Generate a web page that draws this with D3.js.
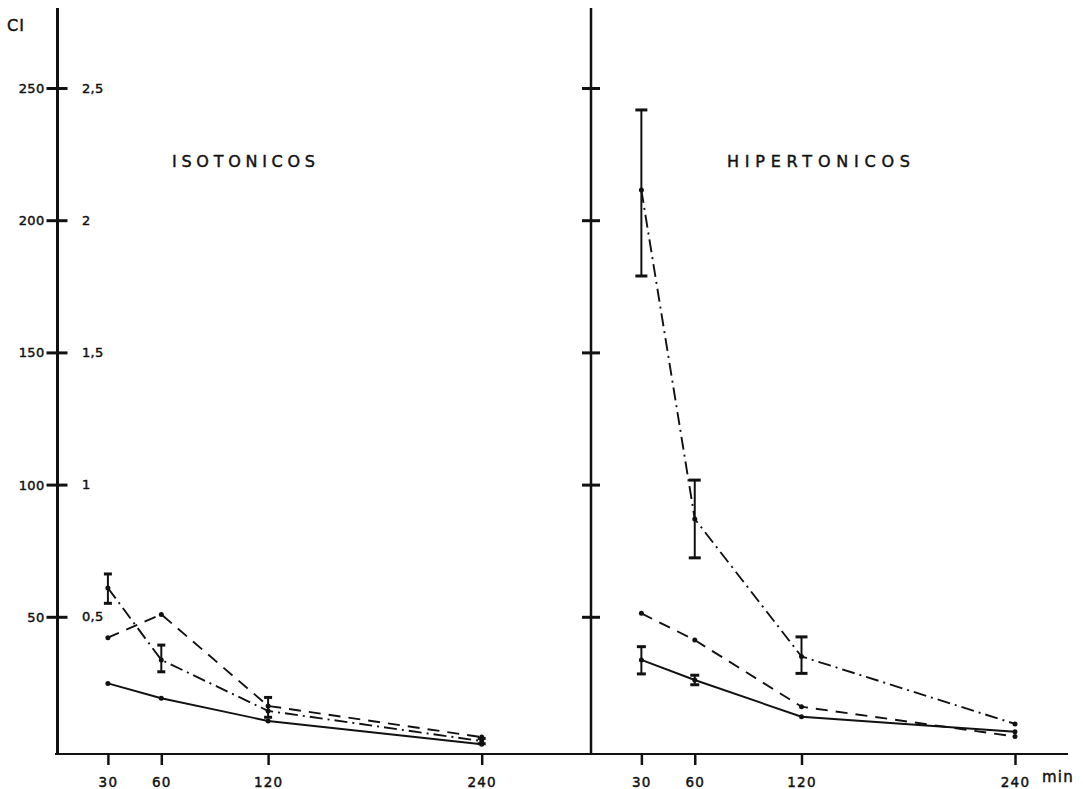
<!DOCTYPE html>
<html><head><meta charset="utf-8">
<script src="https://cdn.jsdelivr.net/npm/d3@7"></script>
<style>
html,body{margin:0;padding:0;background:#fff;}
svg{display:block;}
text{font-family:"DejaVu Sans","Liberation Sans",Arial,sans-serif;fill:#111;font-weight:normal;stroke:#111;stroke-width:0.45px;}
</style></head>
<body>
<svg id="chart" width="1083" height="789"></svg>
<script>
// ---- data ----
const times = [30, 60, 120, 240];
const yTicks = [50, 100, 150, 200, 250];
const yTickLabels2 = ["0,5", "1", "1,5", "2", "2,5"];
const panelTitles = ["ISOTONICOS", "HIPERTONICOS"];

const isoSolid   = [24.8, 19.2, 10.6, 1.8];
const isoDashed  = [42.1, 50.9, 16.3, 4.5];
const isoDashDot = [60.9, 33.7, 14.4, 3.0];
const isoDashDotLow  = [55.1, 29.2, 12.0, 2.0];
const isoDashDotHigh = [66.2, 39.3, 19.5, 4.0];

const hipSolid   = [33.7, 26.1, 12.2, 6.5];
const hipSolidLow  = [28.4, 24.3, null, null];
const hipSolidHigh = [38.7, 27.9, null, null];
const hipDashed  = [51.3, 41.2, 16.0, 4.7];
const hipDashDot = [211.4, 87.0, 35.0, 9.5];
const hipDashDotLow  = [178.9, 72.3, 28.6, null];
const hipDashDotHigh = [241.7, 101.7, 42.4, null];

// ---- scales ----
const svg = d3.select("#chart");
const y = d3.scaleLinear().domain([0, 250]).range([749, 88]);
const xL = d3.scaleLinear().domain([0, 240]).range([54.5, 481.7]);
const xR = d3.scaleLinear().domain([0, 240]).range([588, 1015]);
const baseY = 754;

// ---- axes lines ----
svg.append("line").attr("x1", 57.5).attr("x2", 57.5).attr("y1", 8).attr("y2", baseY)
  .attr("stroke", "#111").attr("stroke-width", 3);
svg.append("line").attr("x1", 591).attr("x2", 591).attr("y1", 8).attr("y2", baseY)
  .attr("stroke", "#111").attr("stroke-width", 2.5);
svg.append("line").attr("x1", 55).attr("x2", 1068).attr("y1", baseY).attr("y2", baseY)
  .attr("stroke", "#111").attr("stroke-width", 2);

// left y axis via d3
const gL = svg.append("g").attr("transform", "translate(57.5,0)")
  .call(d3.axisLeft(y).tickValues(yTicks).tickSize(11).tickPadding(2).tickFormat(d3.format("d")));
gL.select(".domain").remove();
gL.selectAll(".tick line").attr("stroke", "#111").attr("stroke-width", 3).attr("x2", 10).attr("x1", -11);
gL.selectAll(".tick text").style("font-size", "13px").style("font-family", "'DejaVu Sans',sans-serif")
  .style("letter-spacing", "0.3px").attr("dy", "0.35em").attr("fill", "#111");

// secondary labels
svg.append("g").selectAll("text").data(yTicks).join("text")
  .attr("x", 82).attr("y", d => y(d) + 4.5)
  .style("font-size", "13px").style("letter-spacing", "0.3px")
  .text((d, i) => yTickLabels2[i]);

// right axis ticks
const gR = svg.append("g").attr("transform", "translate(591,0)")
  .call(d3.axisLeft(y).tickValues(yTicks).tickSize(9).tickFormat(""));
gR.select(".domain").remove();
gR.selectAll(".tick line").attr("stroke", "#111").attr("stroke-width", 3).attr("x1", 9).attr("x2", -9);

// x axes
[xL, xR].forEach(xs => {
  const g = svg.append("g").attr("transform", `translate(0,${baseY})`)
    .call(d3.axisBottom(xs).tickValues(times).tickSize(11).tickPadding(12).tickFormat(d3.format("d")));
  g.select(".domain").remove();
  g.selectAll(".tick line").attr("stroke", "#111").attr("stroke-width", 2.5);
  g.selectAll(".tick text").style("font-size", "13.5px").style("font-family", "'DejaVu Sans',sans-serif")
    .style("letter-spacing", "1.2px").attr("fill", "#111");
});
svg.append("text").attr("x", 1042).attr("y", 782).style("font-size", "15px").style("letter-spacing", "1.2px").text("min");

// y label
svg.append("text").attr("x", 7).attr("y", 31).style("font-size", "16px").style("letter-spacing", "1px").text("CI");

// titles
svg.append("text").attr("x", 172).attr("y", 167).attr("textLength", 143).attr("lengthAdjust", "spacing")
  .style("font-size", "16px").text(panelTitles[0]);
svg.append("text").attr("x", 727).attr("y", 167).attr("textLength", 183).attr("lengthAdjust", "spacing")
  .style("font-size", "16px").text(panelTitles[1]);

// ---- series ----
function drawSeries(xs, vals, dash, low, high, capW) {
  const pts = times.map((t, i) => [t, vals[i]]);
  const line = d3.line().x(d => xs(d[0])).y(d => y(d[1]));
  svg.append("path").datum(pts).attr("d", line).attr("fill", "none")
    .attr("stroke", "#111").attr("stroke-width", 1.9).attr("stroke-dasharray", dash);
  svg.append("g").selectAll("circle").data(pts).join("circle")
    .attr("cx", d => xs(d[0])).attr("cy", d => y(d[1])).attr("r", 2.5).attr("fill", "#111");
  if (low) {
    const eb = times.map((t, i) => ({t, lo: low[i], hi: high[i]})).filter(d => d.lo != null);
    const g = svg.append("g").attr("stroke", "#111");
    g.selectAll("line.v").data(eb).join("line").attr("class", "v")
      .attr("x1", d => xs(d.t)).attr("x2", d => xs(d.t))
      .attr("y1", d => y(d.lo)).attr("y2", d => y(d.hi)).attr("stroke-width", 2);
    g.selectAll("line.lo").data(eb).join("line").attr("class", "lo")
      .attr("x1", d => xs(d.t) - capW / 2).attr("x2", d => xs(d.t) + capW / 2)
      .attr("y1", d => y(d.lo)).attr("y2", d => y(d.lo)).attr("stroke-width", 3);
    g.selectAll("line.hi").data(eb).join("line").attr("class", "hi")
      .attr("x1", d => xs(d.t) - capW / 2).attr("x2", d => xs(d.t) + capW / 2)
      .attr("y1", d => y(d.hi)).attr("y2", d => y(d.hi)).attr("stroke-width", 3);
  }
}
const DASH = "12,8";
const DASHDOT = "13,5,2,5";

drawSeries(xL, isoSolid, null, null, null, 8);
drawSeries(xL, isoDashed, DASH, null, null, 8);
drawSeries(xL, isoDashDot, DASHDOT, isoDashDotLow, isoDashDotHigh, 8);

drawSeries(xR, hipSolid, null, hipSolidLow, hipSolidHigh, 9);
drawSeries(xR, hipDashed, DASH, null, null, 9);
drawSeries(xR, hipDashDot, DASHDOT, hipDashDotLow, hipDashDotHigh, 12);
</script>
</body></html>
